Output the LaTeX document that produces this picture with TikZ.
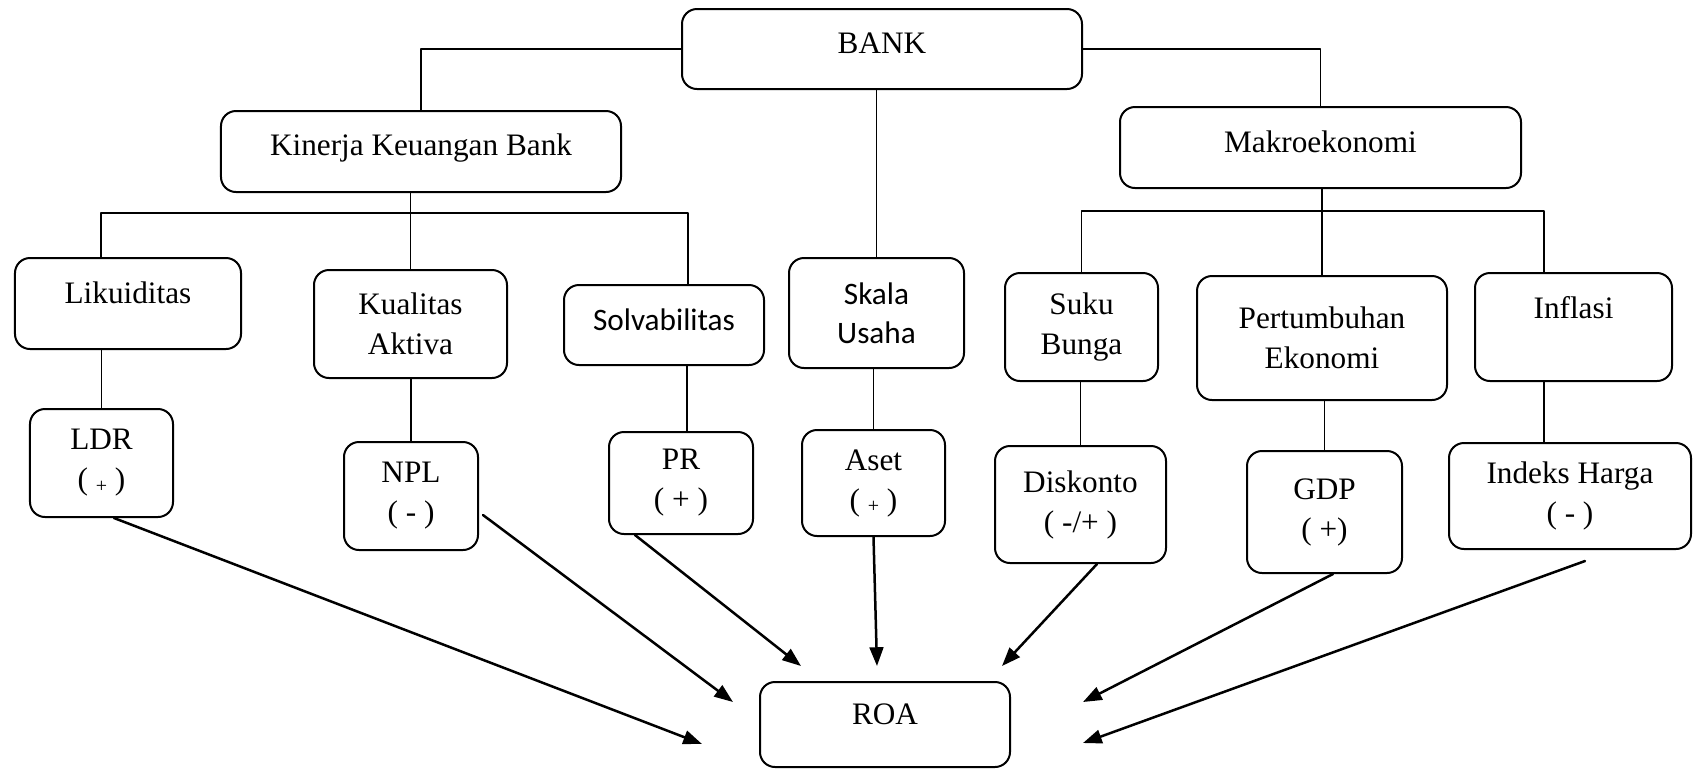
\documentclass[tikz,border=0pt]{standalone}
\usepackage{fontspec}
\setmainfont{Liberation Serif}
\newfontfamily\calibri{Carlito}
\usetikzlibrary{arrows.meta}

\begin{document}
\begin{tikzpicture}[x=0.4pt,y=-0.4pt,line join=round,line cap=round,
        >={Triangle[length=7.5pt,width=5.5pt]},
        kotak/.style={draw,line width=0.8pt,rounded corners=6pt,align=center,inner sep=2pt,
            font=\fontsize{12.5}{16}\selectfont},
        sans/.style={font=\calibri\fontsize{12.5}{15.5}\selectfont},
        naik/.style={text height=9pt,text depth=#1},
        garis/.style={line width=0.7pt},
        panah/.style={->,line width=1pt}]
    \useasboundingbox (0,0) rectangle (1695,769);
    % level atas
    \node[kotak,naik=5.5pt,minimum width=160pt,minimum height=32pt] (bank) at (882,49) {BANK};
    \node[kotak,naik=5.9pt,minimum width=160pt,minimum height=32.4pt] (kinerja) at (421,151.5) {Kinerja Keuangan Bank};
    \node[kotak,naik=5.1pt,minimum width=160.4pt,minimum height=32.4pt] (makro) at (1320.5,147.5) {Makroekonomi};
    % faktor
    \node[kotak,naik=9.1pt,minimum width=90.4pt,minimum height=36.4pt] (likuid) at (128,303.5) {Likuiditas};
    \node[kotak,minimum width=77.2pt,minimum height=43.2pt] (kualitas) at (410.5,324) {Kualitas\\Aktiva};
    \node[kotak,sans,naik=4.7pt,minimum width=80pt,minimum height=32pt] (solva) at (664,325) {Solvabilitas};
    \node[kotak,sans,minimum width=70pt,minimum height=44pt] (skala) at (876.5,313) {Skala\\Usaha};
    \node[kotak,minimum width=61.2pt,minimum height=43.2pt] (suku) at (1081.5,327) {Suku\\Bunga};
    \node[kotak,minimum width=100pt,minimum height=49.6pt] (tumbuh) at (1322,338) {Pertumbuhan\\Ekonomi};
    \node[kotak,naik=15.9pt,minimum width=78.8pt,minimum height=43.2pt] (inflasi) at (1573.5,327) {Inflasi};
    % indikator
    \node[kotak,minimum width=57.2pt,minimum height=43.2pt] (ldr) at (101.5,463) {LDR\\( \raisebox{-1pt}{\footnotesize +} )};
    \node[kotak,minimum width=53.6pt,minimum height=43.2pt] (npl) at (411,496) {NPL\\( - )};
    \node[kotak,minimum width=57.6pt,minimum height=40.8pt] (pr) at (681,483) {PR\\( + )};
    \node[kotak,minimum width=57.2pt,minimum height=42.4pt] (aset) at (873.5,483) {Aset\\( \raisebox{-1pt}{\footnotesize +} )};
    \node[kotak,minimum width=68.4pt,minimum height=46.8pt] (diskonto) at (1080.5,504.5) {Diskonto\\( -/+ )};
    \node[kotak,minimum width=62pt,minimum height=48.8pt] (gdp) at (1324.5,512) {GDP\\( +)};
    \node[kotak,minimum width=96.8pt,minimum height=42.4pt] (indeks) at (1570,496) {Indeks Harga\\( - )};
    \node[kotak,naik=8.7pt,minimum width=100pt,minimum height=34pt] (roa) at (885,724.5) {ROA};
    % cabang
    \coordinate (busk) at (410.5,213);
    \coordinate (busm) at (1322,211);
    \draw[garis] (bank.west) -| (kinerja.north);
    \draw[garis] (bank.east) -| (makro.north);
    \draw[garis] (skala.north |- bank.south) -- (skala.north);
    \draw[garis] (kualitas.north |- kinerja.south) -- (kualitas.north);
    \draw[garis] ([xshift=-10.8pt]likuid.north) |- (busk) -| ([xshift=9.6pt]solva.north);
    \draw[garis] (tumbuh.north |- makro.south) -- (tumbuh.north);
    \draw[garis] (suku.north) |- (busm) -| ([xshift=-11.8pt]inflasi.north);
    \draw[garis] (ldr.north |- likuid.south) -- (ldr.north);
    \draw[garis] ([xshift=2.4pt]pr.north |- solva.south) -- ([xshift=2.4pt]pr.north);
    \draw[garis] ([xshift=-11.8pt]inflasi.south) -- ([xshift=-11.8pt]inflasi.south |- indeks.north);
    \foreach \p/\c in {kualitas/npl,skala/aset,suku/diskonto,tumbuh/gdp}
    \draw[garis] (\c.north |- \p.south) -- (\c.north);
    % panah ke ROA
    \coordinate (r1) at (702,744);
    \coordinate (r2) at (733,702);
    \coordinate (r3) at (801,666);
    \coordinate (r4) at (877,666);
    \coordinate (r5) at (1002,666);
    \coordinate (r6) at (1083,702);
    \coordinate (r7) at (1083,743);
    \draw[panah] ([xshift=5pt]ldr.south) -- (r1);
    \draw[panah] ([xshift=1.6pt,yshift=-7.6pt]npl.east) -- (r2);
    \draw[panah] ([xshift=-18.4pt]pr.south) -- (r3);
    \draw[panah] (aset.south) -- (r4);
    \draw[panah] ([xshift=6.6pt]diskonto.south) -- (r5);
    \draw[panah] ([xshift=3.4pt]gdp.south) -- (r6);
    \draw[panah] ([xshift=6pt,yshift=-4.4pt]indeks.south) -- (r7);
\end{tikzpicture}
\end{document}
